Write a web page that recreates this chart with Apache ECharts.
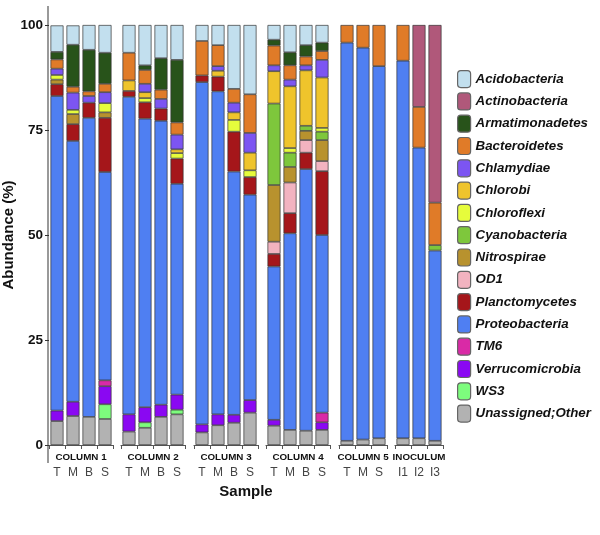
<!DOCTYPE html>
<html>
<head>
<meta charset="utf-8">
<script src="https://cdn.jsdelivr.net/npm/echarts@6/dist/echarts.min.js"></script>
<style>
  html, body { margin: 0; padding: 0; background: #fff; }
  #chart { width: 600px; height: 535px; }
</style>
</head>
<body>
<div id="chart"></div>
<script>
// --- data (percent abundance per sample) ---
const panels = ['COLUMN 1', 'COLUMN 2', 'COLUMN 3', 'COLUMN 4', 'COLUMN 5', 'INOCULUM'];
const sampleLabels = [
    ['T', 'M', 'B', 'S'], ['T', 'M', 'B', 'S'], ['T', 'M', 'B', 'S'],
    ['T', 'M', 'B', 'S'], ['T', 'M', 'S'], ['I1', 'I2', 'I3']
];
// legend order (top of stack first)
const taxa = ['Acidobacteria', 'Actinobacteria', 'Armatimonadetes', 'Bacteroidetes', 'Chlamydiae',
    'Chlorobi', 'Chloroflexi', 'Cyanobacteria', 'Nitrospirae', 'OD1', 'Planctomycetes',
    'Proteobacteria', 'TM6', 'Verrucomicrobia', 'WS3', 'Unassigned;Other'];

//                      C1 T  M    B    S  | C2 T  M    B    S  | C3 T  M    B    S  | C4 T  M    B    S  | C5 T M  S  | I1  I2  I3
const acidobacteria   = [6.3, 4.6, 5.9, 6.6, 6.6, 9.6, 7.9, 8.3, 3.8, 4.8, 15.2, 16.5, 3.5, 6.5, 4.8, 4.2, 0, 0, 0, 0, 0, 0];
const actinobacteria  = [0, 0, 0, 0, 0, 0, 0, 0, 0, 0, 0, 0, 0, 0, 0, 0, 0, 0, 0, 0, 19.5, 42.3];
const armatimonadetes = [1.8, 10.0, 9.9, 7.4, 0, 1.1, 7.5, 14.9, 0, 0, 0, 0, 1.4, 3.1, 2.7, 2.0, 0, 0, 0, 0, 0, 0];
const bacteroidetes   = [2.2, 1.4, 1.1, 2.0, 6.6, 3.3, 2.2, 2.9, 8.2, 5.0, 3.3, 9.2, 4.7, 3.4, 2.1, 2.1, 4.2, 5.4, 9.8, 8.5, 9.7, 10.1];
const chlamydiae      = [1.5, 4.1, 1.6, 2.6, 0, 2.0, 2.3, 3.5, 0, 1.1, 2.3, 4.7, 1.4, 1.6, 1.2, 4.2, 0, 0, 0, 0, 0, 0];
const chlorobi        = [0, 0, 0, 0, 2.5, 1.4, 0, 0.9, 0, 1.4, 1.8, 4.2, 7.7, 14.7, 13.2, 12.0, 0, 0, 0, 0, 0, 0];
const chloroflexi     = [1.1, 1.0, 0, 2.2, 0, 1.0, 0, 1.3, 0, 0, 2.8, 1.6, 0, 1.1, 0, 0.9, 0, 0, 0, 0, 0, 0];
const cyanobacteria   = [0, 0, 0, 0, 0, 0, 0, 0, 0, 0, 0, 0, 19.4, 3.4, 1.2, 2.0, 0, 0, 0, 0, 0, 1.3];
const nitrospirae     = [1.1, 2.4, 0, 1.3, 0, 0, 0, 0, 0, 0, 0, 0, 13.5, 3.7, 2.2, 5.0, 0, 0, 0, 0, 0, 0];
const od1             = [0, 0, 0, 0, 0, 0, 0, 0, 0, 0, 0, 0, 2.9, 7.3, 3.0, 2.4, 0, 0, 0, 0, 0, 0];
const planctomycetes  = [2.8, 4.0, 3.6, 12.9, 1.4, 3.9, 2.9, 6.0, 1.6, 3.5, 9.5, 4.2, 3.0, 4.8, 3.9, 15.2, 0, 0, 0, 0, 0, 0];
const proteobacteria  = [74.9, 62.1, 71.2, 49.6, 75.6, 68.7, 67.6, 50.2, 81.5, 76.9, 57.9, 48.9, 36.5, 46.8, 62.3, 42.3, 94.8, 93.3, 88.6, 89.9, 69.2, 45.3];
const tm6             = [0, 0, 0, 1.4, 0, 0, 0, 0, 0, 0, 0, 0, 0, 0, 0, 2.3, 0, 0, 0, 0, 0, 0];
const verrucomicrobia = [2.5, 3.4, 0, 4.3, 4.1, 3.6, 2.9, 3.6, 1.9, 2.6, 1.9, 3.0, 1.4, 0, 0, 1.8, 0, 0, 0, 0, 0, 0];
const ws3             = [0, 0, 0, 3.5, 0, 1.3, 0, 1.1, 0, 0, 0, 0, 0, 0, 0, 0, 0, 0, 0, 0, 0, 0];
const unassigned      = [5.7, 6.9, 6.7, 6.2, 3.2, 4.1, 6.7, 7.3, 3.0, 4.7, 5.3, 7.7, 4.6, 3.6, 3.4, 3.6, 1.0, 1.3, 1.6, 1.6, 1.6, 1.0];

const taxaValues = {
    'Acidobacteria': acidobacteria, 'Actinobacteria': actinobacteria, 'Armatimonadetes': armatimonadetes,
    'Bacteroidetes': bacteroidetes, 'Chlamydiae': chlamydiae, 'Chlorobi': chlorobi, 'Chloroflexi': chloroflexi,
    'Cyanobacteria': cyanobacteria, 'Nitrospirae': nitrospirae, 'OD1': od1, 'Planctomycetes': planctomycetes,
    'Proteobacteria': proteobacteria, 'TM6': tm6, 'Verrucomicrobia': verrucomicrobia, 'WS3': ws3,
    'Unassigned;Other': unassigned
};

// --- styles / layout ---
const COLORS = {
    'Acidobacteria': '#c2dfee', 'Actinobacteria': '#b0587a', 'Armatimonadetes': '#28531a',
    'Bacteroidetes': '#e07b28', 'Chlamydiae': '#7c55f2', 'Chlorobi': '#efc42c', 'Chloroflexi': '#e6fc3c',
    'Cyanobacteria': '#7ec73c', 'Nitrospirae': '#b8922e', 'OD1': '#f2b3c0', 'Planctomycetes': '#a5161a',
    'Proteobacteria': '#4f7ff2', 'TM6': '#d92aa6', 'Verrucomicrobia': '#8a08f2', 'WS3': '#7dfc7d',
    'Unassigned;Other': '#b2b2b2'
};
const PANEL_LEFT = [49, 121, 194, 266, 339, 395];
const PANEL_WIDTH = [64, 64, 64, 64, 48, 48];
const PLOT_TOP = 25, PLOT_H = 420;
const FONT = 'Liberation Sans, Arial, sans-serif';

const chart = echarts.init(document.getElementById('chart'), null, { renderer: 'canvas' });

const grids = [], xAxes = [], yAxes = [], series = [], graphics = [];
let offset = 0;
panels.forEach((panel, p) => {
    const n = sampleLabels[p].length;
    grids.push({ left: PANEL_LEFT[p], width: PANEL_WIDTH[p], top: PLOT_TOP, height: PLOT_H });
    xAxes.push({
        type: 'category', gridIndex: p, data: sampleLabels[p], offset: 18,
        axisLine: { show: true, lineStyle: { color: '#555', width: 1.2 } },
        axisTick: { show: true, length: 4, lineStyle: { color: '#555' } },
        axisLabel: { color: '#444', fontSize: 12, margin: 4, fontFamily: FONT, interval: 0 }
    });
    yAxes.push({
        type: 'value', gridIndex: p, min: 0, max: 100, interval: 25, show: p === 0,
        axisLine: { show: false },
        axisTick: { show: true, length: 4, lineStyle: { color: '#333' } },
        axisLabel: { color: '#111', fontSize: 13.5, fontWeight: 'bold', margin: 6, fontFamily: FONT },
        splitLine: { show: false },
        name: p === 0 ? 'Abundance (%)' : '', nameLocation: 'middle', nameGap: 25,
        nameTextStyle: { fontSize: 15, fontWeight: 'bold', color: '#111', fontFamily: FONT }
    });
    // stack from bottom (Unassigned) to top (Acidobacteria)
    taxa.slice().reverse().forEach(name => {
        series.push({
            type: 'bar', name: name, stack: 'p' + p, xAxisIndex: p, yAxisIndex: p,
            barWidth: 13,
            data: taxaValues[name].slice(offset, offset + n).map(v => v > 0 ? v : null),
            itemStyle: { color: COLORS[name], borderColor: '#333', borderWidth: 0.7 },
            emphasis: { disabled: true }
        });
    });
    graphics.push({
        type: 'text', x: PANEL_LEFT[p] + PANEL_WIDTH[p] / 2, y: 457,
        style: { text: panel, font: 'bold 9.8px ' + FONT, fill: '#111', textAlign: 'center', textVerticalAlign: 'middle' }
    });
    offset += n;
});

// y-axis spine spanning the whole panel strip
graphics.push({ type: 'line', shape: { x1: 48, y1: 6, x2: 48, y2: 463 }, style: { stroke: '#555', lineWidth: 1.2 } });
graphics.push({
    type: 'text', x: 246, y: 492,
    style: { text: 'Sample', font: 'bold 15px ' + FONT, fill: '#111', textAlign: 'center', textVerticalAlign: 'middle' }
});

chart.setOption({
    animation: false,
    grid: grids,
    xAxis: xAxes,
    yAxis: yAxes,
    legend: {
        data: taxa, orient: 'vertical', left: 452, top: 65,
        itemWidth: 13, itemHeight: 17, itemGap: 4.1,
        itemStyle: { borderColor: '#666', borderWidth: 1.2 },
        textStyle: { fontSize: 13.3, fontWeight: 'bold', fontStyle: 'italic', color: '#111', fontFamily: FONT },
        selectedMode: false
    },
    graphic: graphics,
    series: series
});
</script>
</body>
</html>
